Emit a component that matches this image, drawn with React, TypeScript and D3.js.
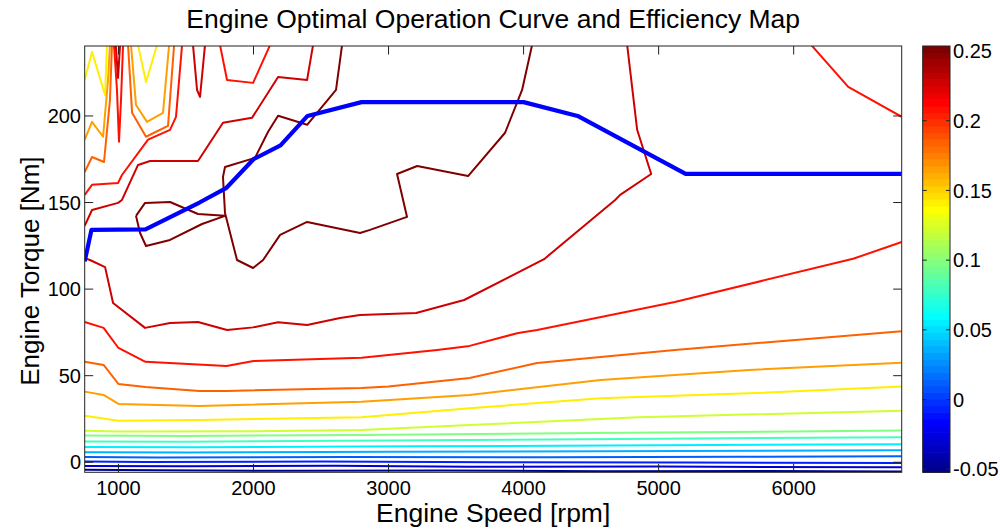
import React from "react";
import * as d3 from "d3";

// ---------- data (speed in rpm, torque in Nm, efficiency as fraction) ----------
const speedTicks = [1000, 2000, 3000, 4000, 5000, 6000];
const torqueTicks = [0, 50, 100, 150, 200];
const effTicks = [-0.05, 0, 0.05, 0.1, 0.15, 0.2, 0.25];
const effTickLabels = ["-0.05", "0", "0.05", "0.1", "0.15", "0.2", "0.25"];

const speedRange = [750, 6800];
const torqueRange = [-5.8, 240.4];
const effRange = [-0.0522, 0.2536];

// contour levels (15 equally spaced from -0.05 to 0.25)
const levels = [-0.05, -0.0286, -0.0071, 0.0143, 0.0357, 0.0571, 0.0786, 0.1, 0.1214, 0.1429, 0.1643, 0.1857, 0.2071, 0.2286, 0.25];

// optimal operation curve
const optSpeed = [750, 800, 1200, 1600, 1800, 2000, 2200, 2400, 2800, 4000, 4400, 5200, 6800];
const optTorque = [116, 134.2, 134.5, 150, 158.5, 175, 183, 200, 208, 208, 200, 166.5, 166.5];

// contour polylines [speed, torque]
const cO = [[750, -4.3], [1300, -4.6], [2200, -4.9], [3400, -4.7], [4600, -5.2], [5800, -5.0], [6800, -5.3]];
const cN = [[750, -2.2], [1500, -2.3], [2600, -2.0], [3600, -2.6], [5000, -2.5], [6800, -2.9]];
const cM = [[750, 0.5], [1200, 0.2], [2500, 0.4], [3800, 0.0], [5200, -0.2], [6800, -0.4]];
const cL = [[750, 3.1], [1300, 2.8], [2700, 3.0], [4200, 2.9], [5600, 3.2], [6800, 3.4]];
const cK = [[750, 5.8], [1500, 5.6], [3000, 6.0], [4600, 6.3], [6800, 6.9]];
const cJ = [[750, 8.8], [1600, 8.7], [3200, 9.2], [5000, 9.8], [6800, 10.4]];
const cI = [[750, 12.0], [1500, 11.8], [3000, 12.6], [5000, 13.6], [6800, 14.4]];
const cH = [[750, 15.4], [1500, 15.2], [2800, 15.8], [4500, 16.9], [6800, 18.3]];
const cG = [[750, 18.2], [1000, 17.7], [2000, 17.9], [2800, 18.7], [3600, 21.5], [4850, 26], [6800, 29.8]];
const cFlow = [[750, 26.9], [1000, 24.0], [1600, 24.4], [2800, 26.0], [3600, 31.2], [4570, 37.0], [5670, 39.8], [6800, 43.7]];
const cFhook = [[750, 220.8], [804, 237], [901, 212.1], [915, 241]];
const cFvalley = [[1145, 241], [1204, 219.6], [1286, 241]];
const cElow = [[750, 40.8], [890, 38.9], [1000, 33.7], [1600, 32.5], [2800, 35.0], [3600, 38.9], [4570, 47.5], [5670, 53.3], [6800, 57.5]];
const cEhook = [[750, 186.3], [804, 196.6], [886, 188], [923, 220.8], [937, 241]];
const cEvalley = [[1093, 241], [1130, 206.3], [1211, 196.6], [1330, 201.8], [1375, 241]];
const cDlow = [[750, 58.1], [890, 56.2], [1000, 45.2], [1200, 43.5], [1600, 41.2], [1800, 41.2], [2800, 42.9], [3000, 43.7], [3600, 48.7], [4100, 57.3], [5120, 64.9], [6800, 75.6]];
const cDhook = [[750, 167.6], [804, 176.3], [893, 173.4], [937, 209.3], [952, 241]];
const cDvalley = [[1071, 241], [1101, 201.8], [1204, 188], [1367, 194.3], [1412, 241]];
const cClow = [[750, 81], [890, 77.6], [1000, 66], [1200, 58], [1800, 55.6], [2000, 58.5], [2800, 60.3], [3000, 62], [3360, 64.9], [3600, 67.2], [3960, 74.7], [4100, 76.4], [5120, 92.6], [6440, 117.5], [6800, 127.2]];
const cCtopRight = [[6130, 241], [6404, 216.8], [6800, 199.5]];
const cChook = [[750, 154.4], [804, 160.2], [997, 161.3], [1026, 165.9], [1219, 186.3], [1382, 192], [1426, 199.5], [1471, 241]];
const cCridge = [[967, 241], [989, 215], [1004, 185.1], [1019, 209.3], [1034, 241]];
const cCdip = [[1752, 241], [1804, 220.8], [1997, 219.1], [2123, 241]];
const cBmain = [[4767, 241], [4841, 192], [4945, 166.5], [4715, 154.4], [4678, 151.5], [4152, 117.3], [3560, 93.7], [3204, 86.2], [2789, 85.1], [2641, 83.3], [2397, 79.3], [2182, 80.9], [1997, 77.9], [1804, 76.4], [1589, 81], [1382, 80.4], [1197, 77.6], [960, 92], [901, 112.7], [789, 116.8], [750, 117.9]];
const cBhook = [[750, 136.5], [804, 145.7], [997, 149.8], [1026, 151.5], [1145, 171.7], [1234, 174], [1589, 174], [1774, 196.1], [1989, 198.9], [2182, 222.5], [2397, 220.8], [2441, 241]];
const cBspike = [[1552, 241], [1582, 215], [1604, 211], [1641, 241]];
const cBsmall = [[980, 241], [997, 222], [1012, 241]];
const cAmid = [[2656, 241], [2611, 215], [2397, 194.9], [2182, 200.1], [2108, 190.9], [2011, 175.8], [1789, 170.5], [1774, 164.8], [1789, 144], [1878, 116.8], [1997, 112.2], [2071, 116.8], [2197, 131.3], [2397, 138.8], [2789, 132.4], [2863, 134.2], [3137, 141.7], [3063, 166.5], [3212, 171.1], [3589, 165.3], [3863, 190.3], [3989, 215], [4063, 241]];
const cAloop = [[1130, 142.3], [1197, 149.8], [1382, 150.3], [1589, 143.4], [1789, 142.3], [1619, 137.6], [1382, 128.4], [1204, 124.9], [1160, 132.4], [1130, 142.3]];

const contours = [
  { level: levels[0], pts: cO },
  { level: levels[1], pts: cN },
  { level: levels[2], pts: cM },
  { level: levels[3], pts: cL },
  { level: levels[4], pts: cK },
  { level: levels[5], pts: cJ },
  { level: levels[6], pts: cI },
  { level: levels[7], pts: cH },
  { level: levels[8], pts: cG },
  { level: levels[9], pts: cFlow },
  { level: levels[9], pts: cFhook },
  { level: levels[9], pts: cFvalley },
  { level: levels[10], pts: cElow },
  { level: levels[10], pts: cEhook },
  { level: levels[10], pts: cEvalley },
  { level: levels[11], pts: cDlow },
  { level: levels[11], pts: cDhook },
  { level: levels[11], pts: cDvalley },
  { level: levels[12], pts: cClow },
  { level: levels[12], pts: cCtopRight },
  { level: levels[12], pts: cChook },
  { level: levels[12], pts: cCridge },
  { level: levels[12], pts: cCdip },
  { level: levels[13], pts: cBmain },
  { level: levels[13], pts: cBhook },
  { level: levels[13], pts: cBspike },
  { level: levels[13], pts: cBsmall },
  { level: levels[14], pts: cAmid },
  { level: levels[14], pts: cAloop },
];

// ---------- MATLAB jet(64) ----------
function jet64(): string[] {
  const m = 64;
  const n = 16;
  const u: number[] = [];
  for (let k = 0; k < 47; k++) u.push(k < 16 ? (k + 1) / n : k < 31 ? 1 : (47 - k) / n);
  const r = new Array(m).fill(0);
  const g = new Array(m).fill(0);
  const b = new Array(m).fill(0);
  for (let k = 0; k < 47; k++) {
    const gi = 8 + k;
    const ri = gi + n;
    const bi = gi - n;
    if (gi >= 0 && gi < m) g[gi] = u[k];
    if (ri >= 0 && ri < m) r[ri] = u[k];
    if (bi >= 0 && bi < m) b[bi] = u[k];
  }
  return r.map((_, i) => d3.rgb(r[i] * 255, g[i] * 255, b[i] * 255).formatHex());
}

function colorFor(jet: string[], v: number): string {
  const i = Math.floor(((v - effRange[0]) / (effRange[1] - effRange[0])) * 64);
  return jet[Math.max(0, Math.min(63, i))];
}

export default function App() {
  const width = 1000;
  const height = 529;
  const L = 84.7;
  const R = 901.7;
  const T = 46;
  const B = 472.3;
  const JET = jet64();
  const x = d3.scaleLinear().domain(speedRange).range([L, R]);
  const y = d3.scaleLinear().domain(torqueRange).range([B, T]);
  const cbL = 922.7;
  const cbR = 950;
  const cy = d3.scaleLinear().domain(effRange).range([B, T]);
  const line = d3.line<number[]>().x((d) => x(d[0])).y((d) => y(d[1]));
  const opt = optSpeed.map((s, i) => [s, optTorque[i]]);
  const font = "'Liberation Sans', Arial, Helvetica, sans-serif";
  const tick = 8.5;
  const step = (effRange[1] - effRange[0]) / 64;

  return (
    <svg width={width} height={height} style={{ position: "absolute", left: 0, top: 0, background: "#fff" }} fontFamily={font}>
      <rect x={0} y={0} width={width} height={height} fill="#fff" />
      <defs>
        <clipPath id="plotclip">
          <rect x={L} y={T} width={R - L} height={B - T} />
        </clipPath>
      </defs>
      <g clipPath="url(#plotclip)" fill="none" strokeLinejoin="round">
        {contours.map((c, i) => (
          <path key={i} d={line(c.pts) || ""} stroke={colorFor(JET, c.level)} strokeWidth={2} />
        ))}
        <path d={line(opt) || ""} stroke="#0000ff" strokeWidth={4.2} strokeLinejoin="round" />
      </g>
      <rect x={L} y={T} width={R - L} height={B - T} fill="none" stroke="#222" strokeWidth={1} />
      {speedTicks.map((s) => (
        <g key={s}>
          <line x1={x(s)} x2={x(s)} y1={B} y2={B - tick} stroke="#222" />
          <line x1={x(s)} x2={x(s)} y1={T} y2={T + tick} stroke="#222" />
          <text x={x(s)} y={495.3} fontSize={20} textAnchor="middle" fill="#000">{s}</text>
        </g>
      ))}
      {torqueTicks.map((t) => (
        <g key={t}>
          <line x1={L} x2={L + tick} y1={y(t)} y2={y(t)} stroke="#222" />
          <line x1={R} x2={R - tick} y1={y(t)} y2={y(t)} stroke="#222" />
          <text x={81} y={y(t)} dy="0.36em" fontSize={20} textAnchor="end" fill="#000">{t}</text>
        </g>
      ))}
      {JET.map((c, i) => (
        <rect key={i} x={cbL} width={cbR - cbL} y={cy(effRange[0] + (i + 1) * step)} height={cy(effRange[0] + i * step) - cy(effRange[0] + (i + 1) * step) + 0.6} fill={c} />
      ))}
      <rect x={cbL} y={T} width={cbR - cbL} height={B - T} fill="none" stroke="#222" strokeWidth={1} />
      {effTicks.map((v, i) => (
        <g key={v}>
          <line x1={cbL} x2={cbL + 4} y1={cy(v)} y2={cy(v)} stroke="#222" />
          <line x1={cbR} x2={cbR - 4} y1={cy(v)} y2={cy(v)} stroke="#222" />
          <text x={953} y={cy(v)} dy="0.36em" fontSize={20} fill="#000">{effTickLabels[i]}</text>
        </g>
      ))}
      <text x={(L + R) / 2} y={28} fontSize={26.5} textAnchor="middle" fill="#000">Engine Optimal Operation Curve and Efficiency Map</text>
      <text x={(L + R) / 2} y={521.7} fontSize={26.5} textAnchor="middle" fill="#000">Engine Speed [rpm]</text>
      <text transform={`translate(39, ${(T + B) / 2 + 12}) rotate(-90)`} fontSize={26} textAnchor="middle" fill="#000">Engine Torque [Nm]</text>
    </svg>
  );
}
